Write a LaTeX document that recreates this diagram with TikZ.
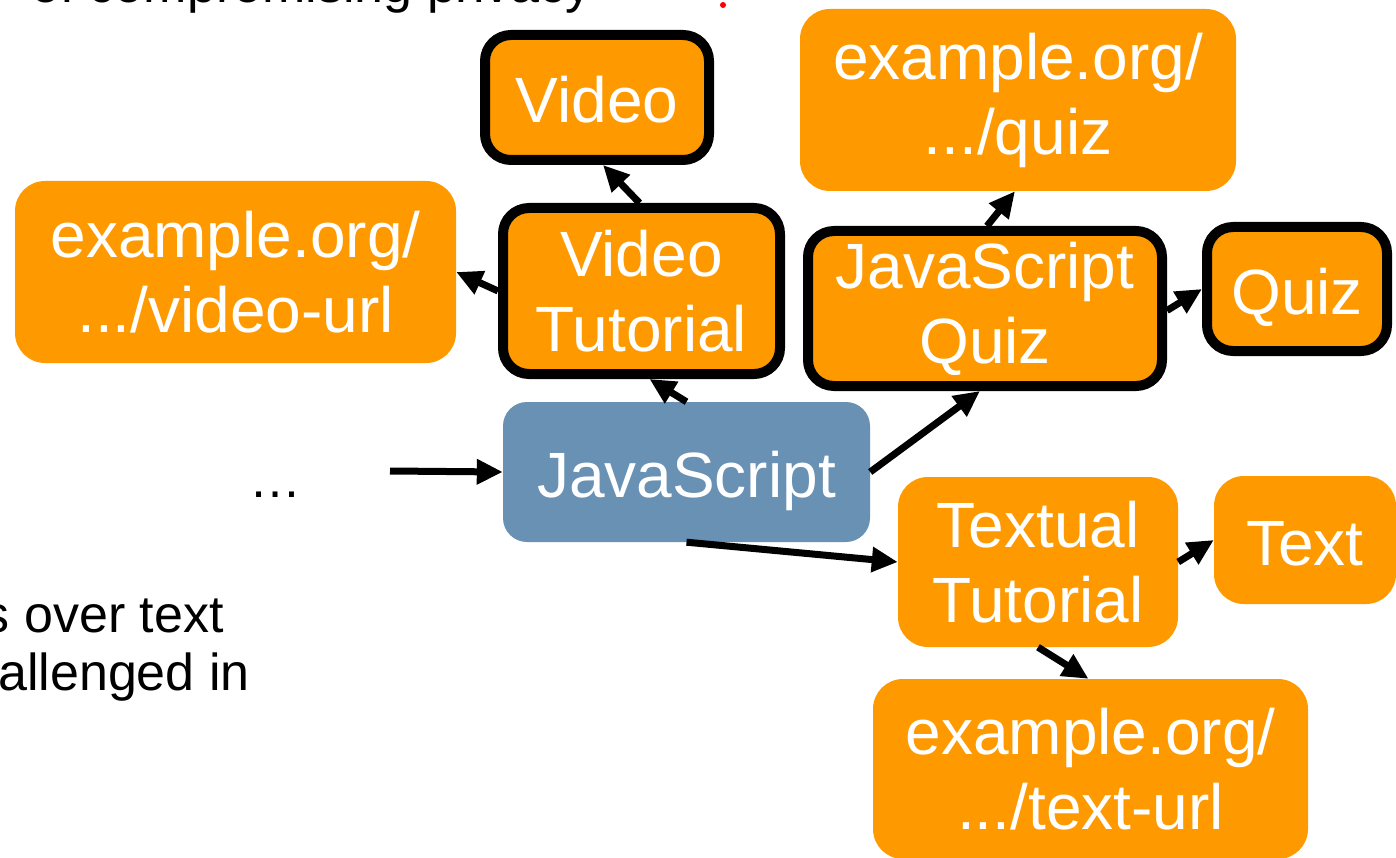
\documentclass[tikz,border=0pt]{standalone}
\usepackage{fontspec}
\setmainfont{Liberation Sans}
\usetikzlibrary{arrows.meta}
\definecolor{boxorange}{RGB}{254,153,0}
\definecolor{boxblue}{RGB}{104,145,180}
\tikzset{
  box/.style={fill=boxorange, rounded corners=30, inner sep=0pt, align=center,
    text=white, font=\fontsize{64pt}{75pt}\selectfont},
  one line/.style={text height=50pt, text depth=0pt},
  thick box/.style={box, draw=black, line width=10pt, rounded corners=26},
  blue box/.style={box, fill=boxblue, rounded corners=24},
  body/.style={inner sep=0pt, font=\fontsize{52pt}{58pt}\selectfont},
  arr/.style={line width=7pt, -{Triangle[length=26pt,width=24pt]}},
}
\begin{document}
\begin{tikzpicture}[x=1pt, y=-1pt]
\useasboundingbox (0,0) rectangle (1396,858);
\clip (0,0) rectangle (1396,858);

% surrounding slide text
\node[body, anchor=base east] (top) at (592,3) {of compromising privacy};
\fill[red] (723,5) circle (3);
\node[body, anchor=base east] (l1) at (224,632) {s over text};
\node[body, anchor=base east] (l2) at (250,690) {allenged in};

% nodes
\node[box, minimum width=441, minimum height=182] (url1) at (235.5,272) {example.org/\\.../video-url};
\node[thick box, one line, minimum width=224, minimum height=125] (vid) at (597,97.5) {Video};
\node[thick box, minimum width=277, minimum height=166] (vt) at (641.5,291) {Video\\Tutorial};
\node[box, minimum width=436, minimum height=182] (urlq) at (1018,100) {example.org/\\.../quiz};
\node[thick box, minimum width=354, minimum height=155] (jq) at (985,308.5) {JavaScript\\Quiz};
\node[thick box, one line, minimum width=180, minimum height=124] (quiz) at (1297,289) {Quiz};
\node[blue box, one line, minimum width=367, minimum height=140] (js) at (686.5,472) {JavaScript};
\node[box, minimum width=280, minimum height=170] (tt) at (1038,562) {Textual\\Tutorial};
\node[box, one line, minimum width=182, minimum height=128] (txt) at (1305,540) {Text};
\node[box, minimum width=435, minimum height=180] (url3) at (1090.5,769) {example.org/\\.../text-url};

\node[body, anchor=base] (dots) at (275,497) {…};
\coordinate (src) at (390,471);

% connectors
\draw[arr] (src) -- (js.west);
\draw[arr] (js.north) -- ([xshift=8pt]vt.south);
\draw[arr] ([xshift=-2pt]vt.north) -- ([xshift=6pt]vid.south);
\draw[arr] (vt.west) -- (url1.east);
\draw[arr] (js.east) -- ([xshift=-5pt]jq.south);
\draw[arr] ([xshift=2pt]jq.north) -- ([xshift=-3pt]urlq.south);
\draw[arr] ([yshift=-2pt]jq.east) -- (quiz.west);
\draw[arr] (js.south) -- (tt.west);
\draw[arr] (tt.east) -- (txt.west);
\draw[arr] (tt.south) -- ([xshift=-2pt]url3.north);
\end{tikzpicture}
\end{document}
